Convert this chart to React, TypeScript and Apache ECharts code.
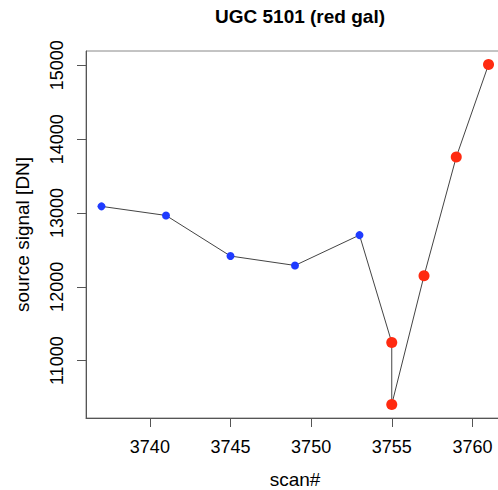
import React, { useEffect, useRef } from "react";
import * as echarts from "echarts";

const titleText = "UGC 5101 (red gal)";
const xName = "scan#";
const yName = "source signal [DN]";

const blueScans = [3737, 3741, 3745, 3749, 3753];
const blueSignals = [13090, 12967, 12417, 12290, 12701];
const redScans = [3755, 3755, 3757, 3759, 3761];
const redSignals = [11246, 10408, 12149, 13758, 15010];

const xTicks = [3740, 3745, 3750, 3755, 3760];
const yTicks = [11000, 12000, 13000, 14000, 15000];

const FONT = "'Liberation Sans', Arial, Helvetica, sans-serif";

export default function App() {
  const ref = useRef<HTMLDivElement>(null);
  useEffect(() => {
    if (!ref.current) return;
    const chart = echarts.init(ref.current, undefined, { renderer: "svg" });
    const allX = [...blueScans, ...redScans];
    const allY = [...blueSignals, ...redSignals];
    const xMinD = Math.min(...allX);
    const xMaxD = Math.max(...allX);
    const yMinD = Math.min(...allY);
    const yMaxD = Math.max(...allY);
    const xPad = (xMaxD - xMinD) * 0.04;
    const yPad = (yMaxD - yMinD) * 0.04;
    const lineData = allX.map((x, i) => [x, allY[i]]);
    chart.setOption({
      animation: false,
      textStyle: { fontFamily: FONT },
      title: {
        text: titleText,
        left: 295,
        textAlign: "center",
        top: 2,
        textStyle: { fontFamily: FONT, fontSize: 19, fontWeight: "bold", color: "#000" },
      },
      grid: {
        left: 86,
        top: 51,
        right: -6,
        bottom: 72,
        show: true,
        borderColor: "#888",
        borderWidth: 1,
        backgroundColor: "transparent",
        outerBoundsMode: "none",
        containLabel: false,
      },
      xAxis: {
        type: "value",
        min: xMinD - xPad,
        max: xMaxD + xPad,
        name: xName,
        nameLocation: "middle",
        nameGap: 61,
        nameTextStyle: {
          fontFamily: FONT,
          fontSize: 19,
          color: "#000",
          verticalAlign: "middle",
          lineHeight: 17,
        },
        axisLine: { show: true, lineStyle: { color: "#555", width: 1 } },
        axisTick: { show: true, length: 9, lineStyle: { color: "#555" }, customValues: xTicks },
        axisLabel: {
          margin: 20,
          fontSize: 18,
          color: "#000",
          fontFamily: FONT,
          customValues: xTicks,
          formatter: (v: number) => String(v),
        },
        splitLine: { show: false },
      },
      yAxis: {
        type: "value",
        min: yMinD - yPad,
        max: yMaxD + yPad,
        name: yName,
        nameLocation: "middle",
        nameGap: 54,
        nameTextStyle: { fontFamily: FONT, fontSize: 19, color: "#000" },
        axisLine: { show: true, lineStyle: { color: "#555", width: 1 } },
        axisTick: { show: true, length: 9, lineStyle: { color: "#555" }, customValues: yTicks },
        axisLabel: {
          margin: 20,
          fontSize: 18,
          color: "#000",
          fontFamily: FONT,
          rotate: 90,
          customValues: yTicks,
          formatter: (v: number) => String(v),
        },
        splitLine: { show: false },
      },
      series: [
        {
          type: "line",
          data: lineData,
          showSymbol: false,
          symbol: "none",
          lineStyle: { color: "#444", width: 1 },
          z: 1,
        },
        {
          type: "scatter",
          data: blueScans.map((x, i) => [x, blueSignals[i]]),
          symbolSize: 8,
          itemStyle: { color: "#1f3bff", opacity: 1 },
          z: 2,
        },
        {
          type: "scatter",
          data: redScans.map((x, i) => [x, redSignals[i]]),
          symbolSize: 11,
          itemStyle: { color: "#ff2a10", opacity: 1 },
          z: 3,
        },
      ],
    });
    return () => chart.dispose();
  }, []);
  return (
    <div
      ref={ref}
      style={{ position: "absolute", left: 0, top: 0, width: 498, height: 490, background: "#fff" }}
    />
  );
}
